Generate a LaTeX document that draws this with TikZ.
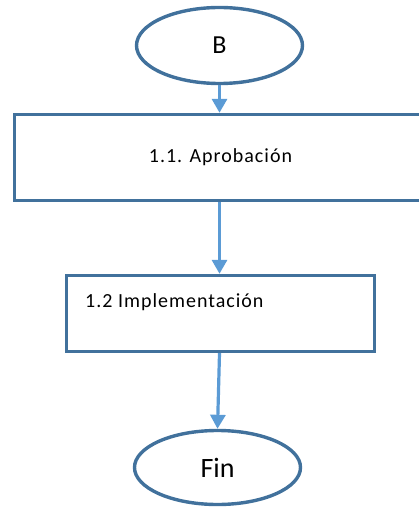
\documentclass[tikz,border=0pt]{standalone}
\usepackage{fontspec}
\setmainfont{Carlito}
\newfontfamily\boxfont{Carlito}[LetterSpace=5]
\usetikzlibrary{shapes}
\usetikzlibrary{arrows.meta}
\usepackage{xcolor}

\begin{document}
\begin{tikzpicture}[x=1pt,y=1pt,yscale=-1,xscale=1,
  outline/.style={draw={rgb,255:red,65;green,113;blue,156},line width=3.4pt},
  flow/.style={draw={rgb,255:red,91;green,155;blue,213},line width=3.2pt,
    -{Triangle[width=15pt,length=14pt]},fill={rgb,255:red,91;green,155;blue,213}}]
\clip (0,0) rectangle (419,508);

%Shape: Ellipse [id:start]
\node [outline,ellipse,minimum width=166pt,minimum height=76pt,font=\fontsize{26}{30}\selectfont] (b) at (219.5,45.5) {B};
%Shape: Rectangle [id:aprob]
\node [outline,rectangle,minimum width=412pt,minimum height=86pt,font=\boxfont\fontsize{20}{24}\selectfont] (aprob) at (220.5,157.5) {1.1. Aprobación};
%Shape: Rectangle [id:impl]
\node [outline,rectangle,minimum width=308pt,minimum height=76pt] (impl) at (220.5,313.5) {};
%Shape: Ellipse [id:fin]
\node [outline,ellipse,minimum width=166pt,minimum height=74pt,font=\fontsize{28}{32}\selectfont] (fin) at (217.5,467.5) {Fin};

% Text Node
\node [anchor=west,inner sep=0pt,font=\boxfont\fontsize{20}{24}\selectfont] (impltext) at (85,302.5) {1.2 Implementación};

%Straight Lines [id:arrow1]
\draw [flow] (b.south) -- (b.south |- aprob.north) ;
%Straight Lines [id:arrow2]
\draw [flow] (aprob.south -| b.south) -- (b.south |- impl.north) ;
%Straight Lines [id:arrow3]
\draw [flow] (impl.south -| b.south) -- (fin.north) ;

\end{tikzpicture}
\end{document}
